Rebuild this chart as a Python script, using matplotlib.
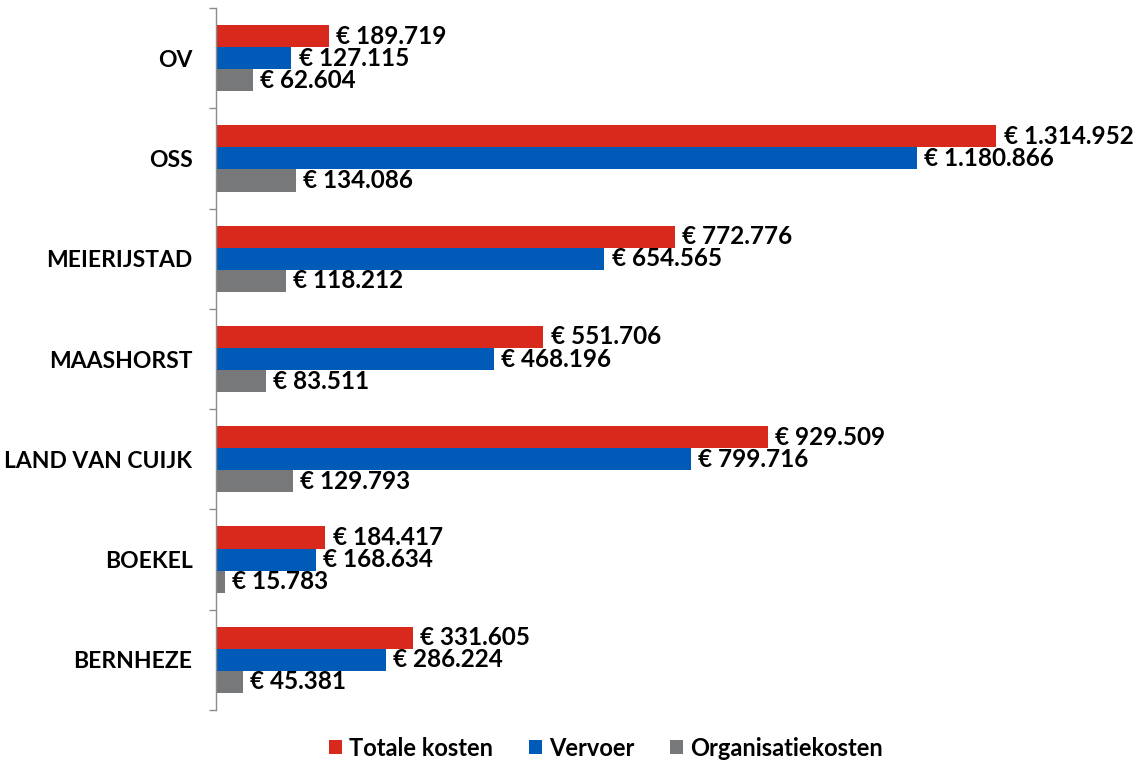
import matplotlib
matplotlib.use("Agg")
import numpy as np
import matplotlib.pyplot as plt
from matplotlib.patches import Patch

# ---------- data (top to bottom) ----------
categories = ["OV", "OSS", "MEIERIJSTAD", "MAASHORST", "LAND VAN CUIJK", "BOEKEL", "BERNHEZE"]
totale_kosten = [189719, 1314952, 772776, 551706, 929509, 184417, 331605]
vervoer = [127115, 1180866, 654565, 468196, 799716, 168634, 286224]
organisatiekosten = [62604, 134086, 118212, 83511, 129793, 15783, 45381]

series_names = ["Totale kosten", "Vervoer", "Organisatiekosten"]
colors = ["#D9291C", "#005BB8", "#76787A"]

plt.rcParams["font.family"] = ["Lato", "DejaVu Sans"]
plt.rcParams["font.weight"] = "bold"

fig = plt.figure(figsize=(11.4, 7.62), dpi=100)
ax = fig.add_axes([216 / 1140, 52 / 762, 914 / 1140, 702 / 762])

y = np.arange(len(categories))
bar_h = 0.22
series = [totale_kosten, vervoer, organisatiekosten]
offsets = [-bar_h, 0.0, bar_h]

for vals, off, col in zip(series, offsets, colors):
    bars = ax.barh(y + off, vals, height=bar_h, color=col, edgecolor="none")
    for b, v in zip(bars, vals):
        ax.text(
            b.get_width() + 12000,
            b.get_y() + b.get_height() / 2,
            "€ " + f"{v:,}".replace(",", "."),
            va="center",
            ha="left",
            fontsize=17.5,
            fontweight="bold",
            color="#000000",
        )

ax.set_xlim(0, 1.54e6)
ax.set_ylim(len(categories) - 0.5, -0.5)

# tick marks at category boundaries, labels at centres
ax.set_yticks(np.arange(len(categories) + 1) - 0.5)
ax.set_yticklabels([])
ax.set_yticks(y, minor=True)
ax.set_yticklabels(categories, minor=True, fontsize=16.5, fontweight="bold")
ax.tick_params(axis="y", which="major", length=5, width=1.0, color="#8C8C8C", direction="out")
ax.tick_params(axis="y", which="minor", length=0, pad=17)

ax.set_xticks([])
for side in ["top", "right", "bottom"]:
    ax.spines[side].set_visible(False)
ax.spines["left"].set_color("#8C8C8C")
ax.spines["left"].set_linewidth(1.0)

handles = [Patch(facecolor=c, edgecolor="none", label=n) for c, n in zip(colors, series_names)]
fig.legend(
    handles=handles,
    loc="center",
    bbox_to_anchor=(606 / 1140, 1 - 748 / 762),
    ncol=3,
    frameon=False,
    prop={"weight": "bold", "size": 17},
    handlelength=0.55,
    handleheight=0.55,
    handletextpad=0.3,
    columnspacing=1.5,
)

fig.savefig("out.png", dpi=100)
